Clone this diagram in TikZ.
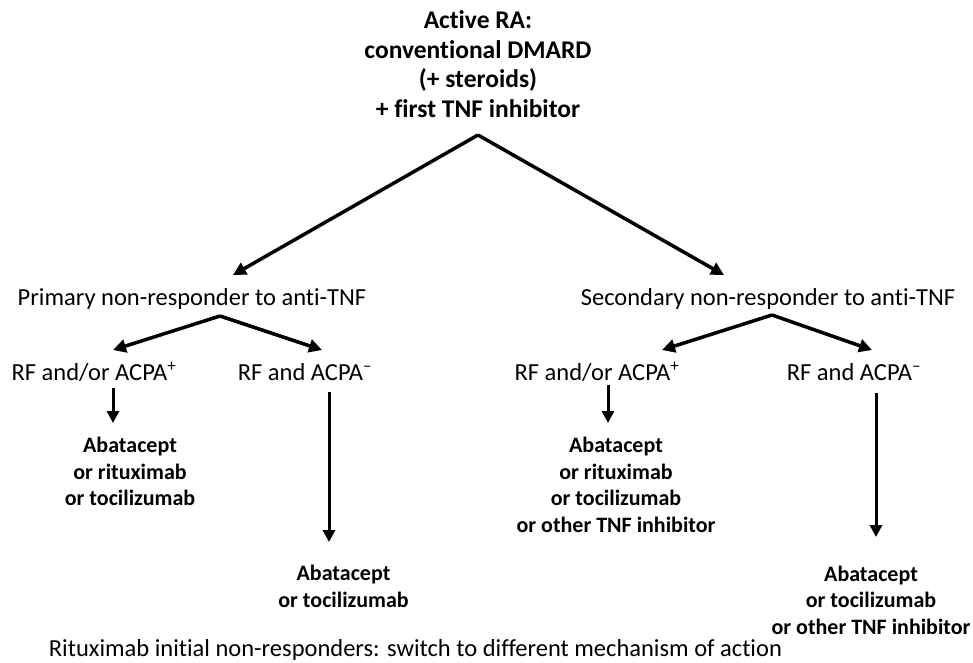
\documentclass[tikz,border=0pt]{standalone}
\usepackage{fontspec}
\setmainfont[Ligatures={NoCommon}]{Carlito}
\usetikzlibrary{arrows.meta,calc}
\tikzset{
  flow/.style  = { line width=3.5pt, -{Triangle[length=13pt,width=13pt]} },
  drop/.style  = { line width=3pt, -{Triangle[length=12pt,width=12pt]} },
  head/.style  = { font=\fontsize{25.5}{29.5}\selectfont\bfseries, align=center, inner sep=0pt },
  group/.style = { font=\fontsize{24.5}{28}\selectfont, inner sep=0pt },
  drug/.style  = { font=\fontsize{22}{26.5}\selectfont\bfseries, align=center, inner sep=0pt }
}
\begin{document}
\begin{tikzpicture}[x=1pt,y=-1pt]
  \useasboundingbox (0,0) rectangle (973,662);

  % Draw all levels
  \node[head] (active) at (478,64) {Active RA:\\conventional DMARD\\(+ steroids)\\+ first TNF inhibitor};

  \node[group] (primary)   at (192,299) {Primary non-responder to anti-TNF};
  \node[group] (secondary) at (768,299) {Secondary non-responder to anti-TNF};

  \node[group] (lpos) at (94,372)  {RF and/or ACPA\textsuperscript{+}};
  \node[group] (lneg) at (305,372) {RF and ACPA\textsuperscript{–}};
  \node[group] (rpos) at (597,372) {RF and/or ACPA\textsuperscript{+}};
  \node[group] (rneg) at (854,372) {RF and ACPA\textsuperscript{–}};

  \node[drug] (lpostx) at (130,471.5) {Abatacept\\or rituximab\\or tocilizumab};
  \node[drug] (lnegtx) at (343.5,586.5) {Abatacept\\or tocilizumab};
  \node[drug] (rpostx) at (616,485) {Abatacept\\or rituximab\\or tocilizumab\\or other TNF inhibitor};
  \node[drug] (rnegtx) at (871,600) {Abatacept\\or tocilizumab\\or other TNF inhibitor};

  \node[group] (rituxnote) at (415.5,650) {Rituximab initial non-responders: switch to different mechanism of action};

  % Draw forks
  \coordinate (topfork) at (478,135);
  \coordinate (pfork) at ($(primary)+(28,17)$);
  \coordinate (sfork) at ($(secondary)+(4,16)$);

  \draw[flow] (topfork) -- ($(primary)+(41,-24)$);
  \draw[flow] (topfork) -- ($(secondary)+(-44,-24)$);

  \draw[flow] (pfork) -- ($(lpos)+(19,-22)$);
  \draw[flow] (pfork) -- ($(lneg)+(17,-22)$);
  \draw[flow] (sfork) -- ($(rpos)+(65,-22)$);
  \draw[flow] (sfork) -- ($(rneg)+(18,-22)$);

  % Draw treatments
  \draw[drop] ($(lpos)+(19,16)$) -- ($(lpostx)+(-17,-48.5)$);
  \draw[drop] ($(lneg)+(24,20)$) -- ($(lnegtx)+(-14.5,-44.5)$);
  \draw[drop] ($(rpos)+(11,13)$) -- ($(rpostx)+(-8,-62)$);
  \draw[drop] ($(rneg)+(22,21)$) -- ($(rnegtx)+(5,-63)$);
\end{tikzpicture}
\end{document}
